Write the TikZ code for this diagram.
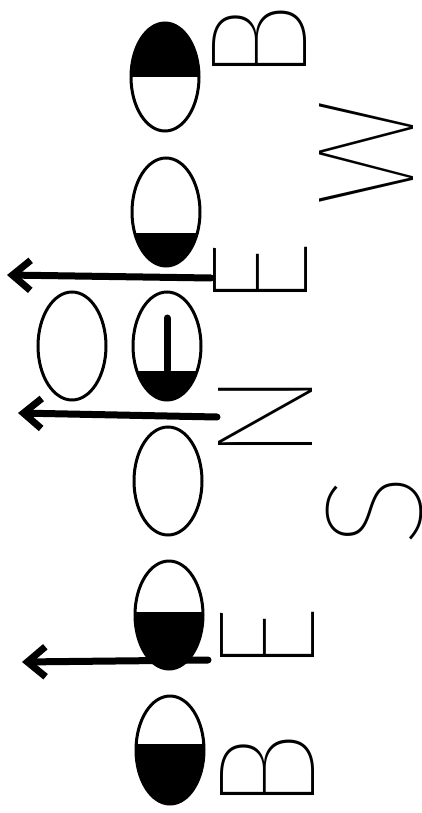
\documentclass[tikz,border=0pt]{standalone}
\usepackage{fontspec}
\IfFontExistsTF{Fira Sans UltraLight}{\newfontfamily\letterfont{Fira Sans UltraLight}}{%
  \IfFontExistsTF{Fira Sans Thin}{\newfontfamily\letterfont{Fira Sans Thin}}{\newfontfamily\letterfont{Fira Sans}}}
\usetikzlibrary{shapes.geometric, arrows.meta}

\begin{document}
\begin{tikzpicture}[x=1pt, y=-1pt,
  moon/.style={draw, ellipse, line width=3pt, minimum width=68pt, minimum height=108pt, inner sep=0pt},
  darktop/.style={path picture={\fill (path picture bounding box.north west) rectangle ([yshift=-#1]path picture bounding box.north east);}},
  darkbot/.style={path picture={\fill (path picture bounding box.south west) rectangle ([yshift=#1]path picture bounding box.south east);}},
  letter/.style={rotate=90, inner sep=0pt, font=\letterfont\fontsize{138}{138}\selectfont},
  push/.style={line width=7pt, line cap=round, -{Straight Barb[length=18pt, width=30pt]}}]
\useasboundingbox (0,0) rectangle (422,813);

% the eggs
\node[moon, darktop=54pt] (m1) at (165,77) {};
\node[moon, darkbot=33pt] (m2) at (166,212) {};
\node[moon, darkbot=29pt] (m3) at (167,346) {};
\node[moon] (m0) at (72,346) {};
\node[moon] (m4) at (168,481) {};
\node[moon, darkbot=57pt] (m5) at (169,615) {};
\node[moon, darkbot=60pt] (m6) at (170,750) {};
\draw[line width=7pt, line cap=round] (m3.center) ++(0,-28) -- ++(0,52);

% letters
\node[letter] (b1) at (260,43) {B};
\node[letter] (w) at (367,153) {W};
\node[letter] (e1) at (261,275) {E};
\node[letter] (n) at (266,417) {N};
\node[letter] (s) at (375,511) {S};
\node[letter] (e2) at (268,640) {E};
\node[letter] (b2) at (268,772) {B};

% arrows
\coordinate (p1) at (211,278); \coordinate (q1) at (7,275);
\coordinate (p2) at (217,417); \coordinate (q2) at (18,413);
\coordinate (p3) at (208,660); \coordinate (q3) at (22,662);
\foreach \i in {1,2,3}
  \draw[push] (p\i) -- (q\i);
\end{tikzpicture}
\end{document}
